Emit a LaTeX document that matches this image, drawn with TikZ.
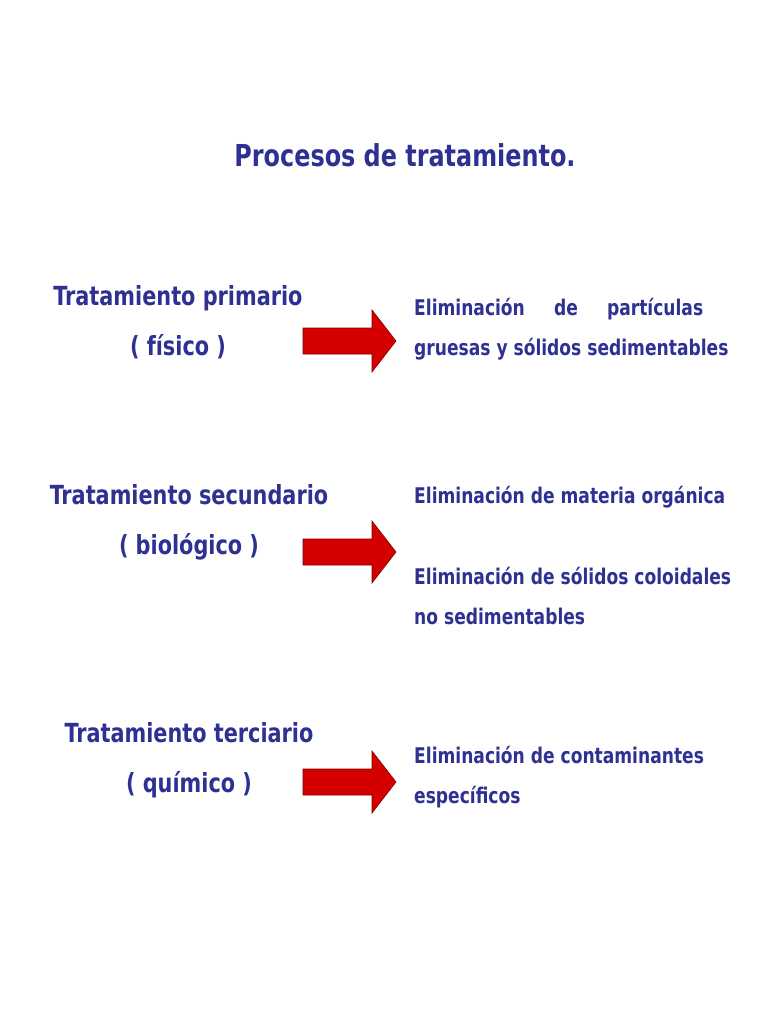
\documentclass[tikz,border=0pt]{standalone}
\usepackage{fontspec}
\setmainfont{DejaVu Sans Condensed}[FakeStretch=0.88]
\definecolor{tblue}{HTML}{2E3192}
\definecolor{ared}{HTML}{D40000}
\tikzset{
  txt/.style={text=tblue,font=\bfseries,inner sep=0pt},
  lefttxt/.style={txt,font=\bfseries\fontsize{26.3}{50}\selectfont,align=center},
  righttxt/.style={txt,font=\bfseries\fontsize{21.6}{40}\selectfont,align=left,anchor=west},
  redarrow/.style={fill=ared,draw=ared!60!black,line width=0.6pt}
}
\newcommand{\redarr}[1]{\draw[redarrow] (303,#1-13) -- (372,#1-13) -- (372,#1-31) -- (396,#1) -- (372,#1+31) -- (372,#1+13) -- (303,#1+13) -- cycle;}
\begin{document}
\begin{tikzpicture}[x=1pt,y=-1pt]
\useasboundingbox (0,0) rectangle (768,1024);
\node[txt,font=\bfseries\fontsize{30.2}{30}\selectfont] (title) at (405,155) {Procesos de tratamiento.};
\node[lefttxt] (l1) at (178,322) {Tratamiento primario\\( físico )};
\node[lefttxt] (l2) at (189,522) {Tratamiento secundario\\( biológico )};
\node[lefttxt] (l3) at (189,760) {Tratamiento terciario\\( químico )};
\redarr{341}
\redarr{552}
\redarr{782}
\node[righttxt] (r1) at (414,329) {\hbox to 313pt{Eliminación\hfill de\hfill partículas\hspace*{24pt}}\\gruesas y sólidos sedimentables};
\node[righttxt] (r2a) at (414,497) {Eliminación de materia orgánica};
\node[righttxt] (r2b) at (414,596) {Eliminación de sólidos coloidales\\no sedimentables};
\node[righttxt] (r3) at (414,777) {Eliminación de contaminantes\\específicos};
\end{tikzpicture}
\end{document}
